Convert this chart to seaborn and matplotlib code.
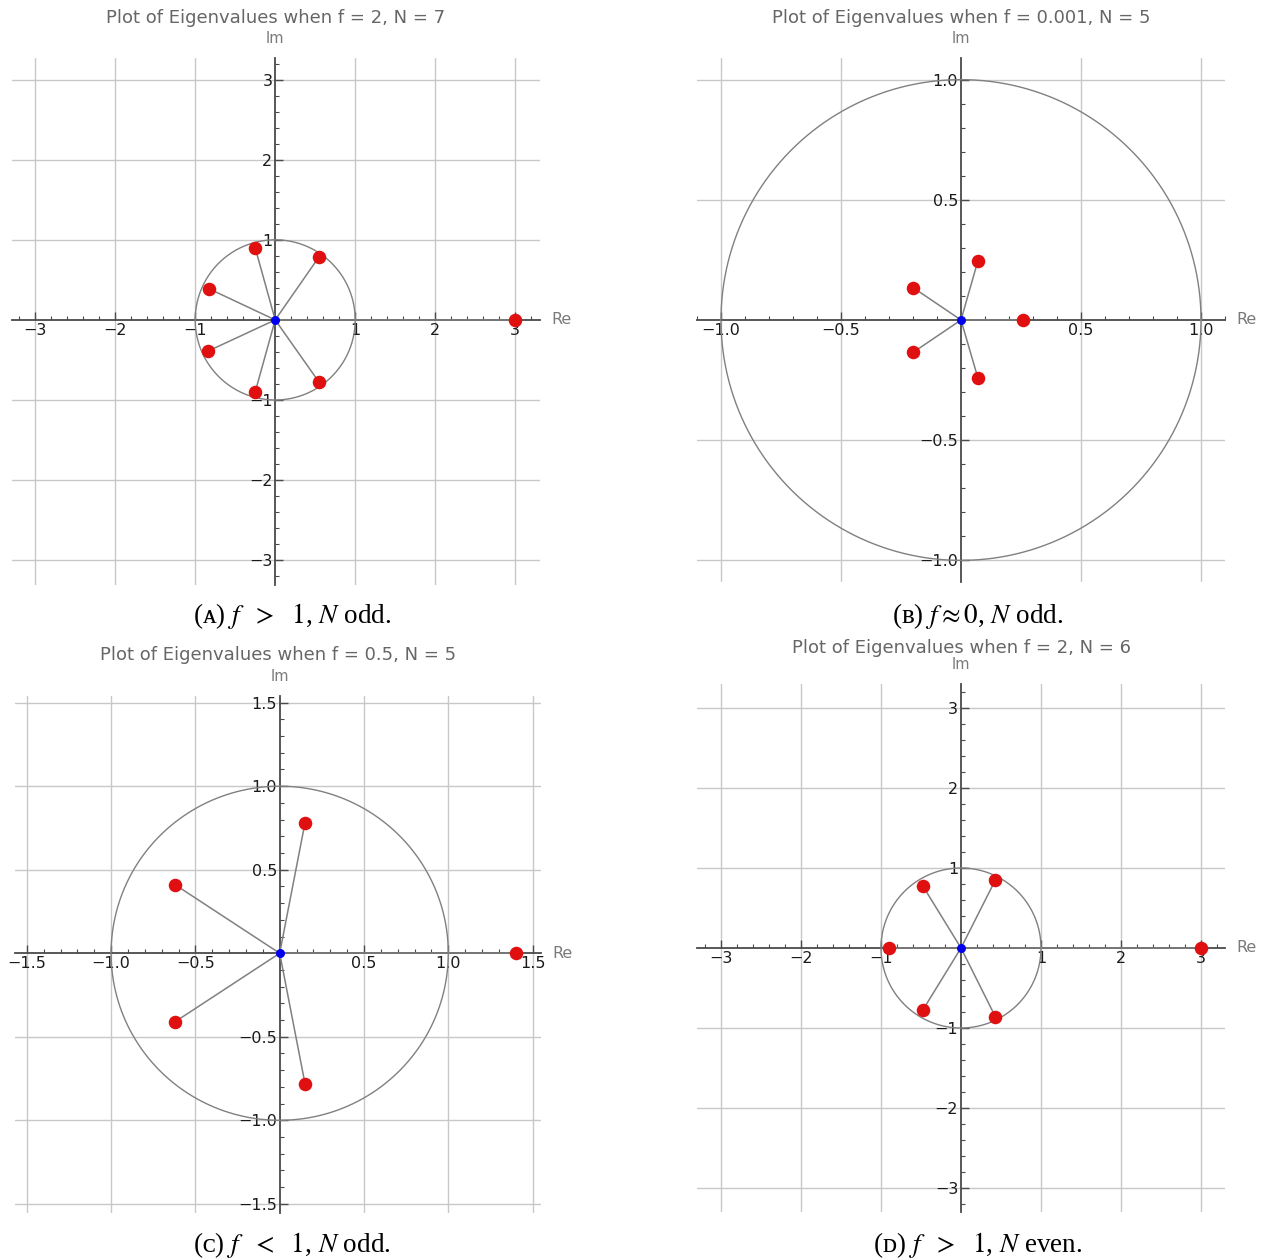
import numpy as np
import matplotlib
matplotlib.use("Agg")
import matplotlib.pyplot as plt
import seaborn as sns
from matplotlib.ticker import MultipleLocator

# ---------------- data ----------------
titles = ["Plot of Eigenvalues when f = 2, N = 7",
          "Plot of Eigenvalues when f = 0.001, N = 5",
          "Plot of Eigenvalues when f = 0.5, N = 5",
          "Plot of Eigenvalues when f = 2, N = 6"]
captions = [r"(ᴀ) $f\ \ >\ \ 1$, $N$ odd.",
            r"(ʙ) $f\approx 0$, $N$ odd.",
            r"(ᴄ) $f\ \ <\ \ 1$, $N$ odd.",
            r"(ᴅ) $f\ \ >\ \ 1$, $N$ even."]

a_re = [3.00, 0.55, -0.25, -0.83, -0.84, -0.25, 0.55]
a_im = [0.00, 0.79, 0.90, 0.39, -0.39, -0.90, -0.78]
b_re = [0.26, 0.07, -0.20, -0.20, 0.07]
b_im = [0.00, 0.245, 0.135, -0.135, -0.24]
c_re = [1.40, 0.15, -0.62, -0.62, 0.15]
c_im = [0.00, 0.78, 0.41, -0.41, -0.78]
d_re = [3.00, 0.43, -0.48, -0.90, -0.48, 0.43]
d_im = [0.00, 0.85, 0.78, 0.00, -0.78, -0.86]

a_ticks = [-3, -2, -1, 1, 2, 3]
b_ticks = [-1.0, -0.5, 0.5, 1.0]
c_ticks = [-1.5, -1.0, -0.5, 0.5, 1.0, 1.5]
d_ticks = [-3, -2, -1, 1, 2, 3]

# ---------------- layout ----------------
W, H = 1265, 1260
sns.set_theme(style="white")
plt.rcParams["font.family"] = ["DejaVu Sans"]
plt.rcParams["mathtext.fontset"] = "stix"

fig = plt.figure(figsize=(W / 100, H / 100), dpi=100)

panels = [
    (a_re, a_im, a_ticks, "int", (-3.29, 3.31), (-3.31, 3.27), (12, 540, 58, 585), 0.2, 18, (292, 616)),
    (b_re, b_im, b_ticks, "one", (-1.10, 1.10), (-1.09, 1.09), (697, 1225, 58, 582), 0.1, 18, (978, 616)),
    (c_re, c_im, c_ticks, "one", (-1.57, 1.55), (-1.555, 1.54), (15, 541, 696, 1213), 0.1, 655, (292, 1245)),
    (d_re, d_im, d_ticks, "int", (-3.30, 3.30), (-3.30, 3.30), (697, 1225, 684, 1212), 0.2, 648, (978, 1245)),
]

grid_c = "#c8c8c8"
axis_c = "#4a4a4a"
line_c = "#808080"

for i, (re, im, ticks, fmt, xlim, ylim, box, minor, ty, cap) in enumerate(panels):
    x0, x1, y0, y1 = box
    ax = fig.add_axes([x0 / W, 1 - y1 / H, (x1 - x0) / W, (y1 - y0) / H])
    ax.set_facecolor("none")
    ax.set_xlim(*xlim)
    ax.set_ylim(*ylim)

    if fmt == "int":
        labels = [f"{t:g}".replace("-", "\u2212") for t in ticks]
    else:
        labels = [f"{t:.1f}".replace("-", "\u2212") for t in ticks]

    ax.set_xticks(ticks, labels)
    ax.set_yticks(ticks, labels)
    ax.xaxis.set_minor_locator(MultipleLocator(minor))
    ax.yaxis.set_minor_locator(MultipleLocator(minor))

    for s in ["top", "right"]:
        ax.spines[s].set_visible(False)
    for s in ["left", "bottom"]:
        ax.spines[s].set_position(("data", 0))
        ax.spines[s].set_color(axis_c)
        ax.spines[s].set_linewidth(1.3)

    ax.tick_params(which="major", direction="in", length=6, width=1,
                   color=axis_c, labelsize=11.5, labelcolor="#1a1a1a", pad=2)
    ax.tick_params(which="minor", direction="in", length=3, width=0.8, color=axis_c)
    ax.tick_params(axis="y", which="both", left=True)
    ax.tick_params(axis="x", which="both", bottom=True)

    ax.grid(True, which="major", color=grid_c, linewidth=1.0)
    ax.set_axisbelow(True)

    # unit circle
    th = np.linspace(0, 2 * np.pi, 400)
    ax.plot(np.cos(th), np.sin(th), color=line_c, lw=1.0, zorder=3)

    # spokes from origin
    for xr, yi in zip(re, im):
        ax.plot([0, xr], [0, yi], color=line_c, lw=1.1, zorder=3)

    sns.scatterplot(x=re, y=im, ax=ax, color="#e01010", s=95, linewidth=0,
                    zorder=5, clip_on=False, legend=False)
    sns.scatterplot(x=[0.0], y=[0.0], ax=ax, color="#0000ee", s=42, linewidth=0,
                    zorder=6, clip_on=False, legend=False)
    ax.set_xlabel("")
    ax.set_ylabel("")

    ax.annotate("Re", xy=(xlim[1], 0), xytext=(8, 0), textcoords="offset points",
                ha="left", va="center", fontsize=11.5, color="#7a7a7a")
    ax.annotate("Im", xy=(0, ylim[1]), xytext=(0, 14), textcoords="offset points",
                ha="center", va="center", fontsize=10.5, color="#7a7a7a")

    fig.text(((x0 + x1) / 2) / W, 1 - ty / H, titles[i], ha="center", va="center",
             fontsize=13, color="#666666")
    fig.text(cap[0] / W, 1 - cap[1] / H, captions[i], ha="center", va="center",
             fontsize=19.5, family=["Liberation Serif", "DejaVu Serif"], color="black")

fig.savefig("out.png", dpi=100)
